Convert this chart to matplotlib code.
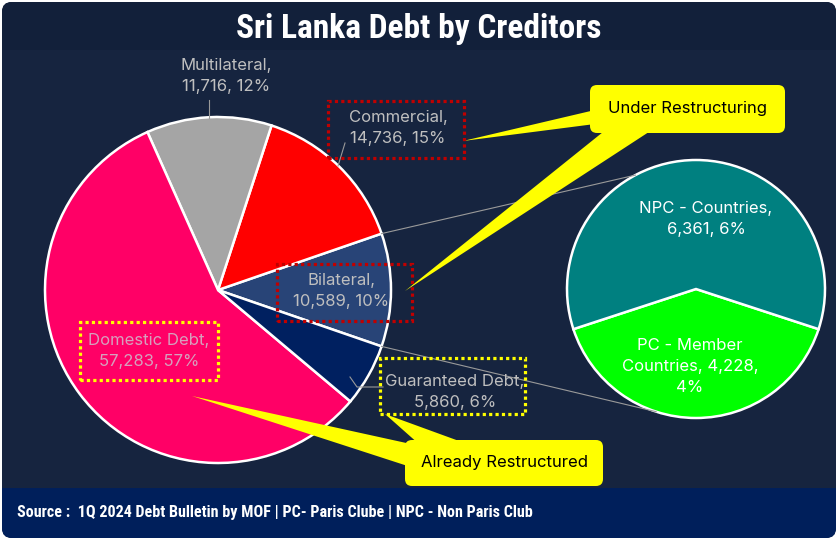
import matplotlib.pyplot as plt
from matplotlib.patches import FancyBboxPatch, Rectangle, Polygon
import numpy as np

W, H = 838, 540

# main pie (Excel pie-of-pie order: the "other" slice first, centred at 3 o'clock)
main_names = ["Bilateral", "Commercial", "Multilateral", "Domestic Debt", "Guaranteed Debt"]
main_values = [10589, 14736, 11716, 57283, 5860]
main_pcts = [10, 15, 12, 57, 6]
main_colors = ["#284477", "#ff0000", "#a5a5a5", "#ff0066", "#002060"]

# secondary pie = split of Bilateral
sub_names = ["PC - Member\nCountries", "NPC - Countries"]
sub_values = [4228, 6361]
sub_pcts = [4, 6]
sub_colors = ["#00ff00", "#008080"]

title = "Sri Lanka Debt by Creditors"
source = "Source :  1Q 2024 Debt Bulletin by MOF | PC- Paris Clube | NPC - Non Paris Club"

COND = ["Liberation Sans Narrow", "Roboto Condensed", "DejaVu Sans"]
LBL = ["Inter", "DejaVu Sans"]


def Y(y):
    return H - y


fig = plt.figure(figsize=(W / 100, H / 100), dpi=100, facecolor="white")
ax = fig.add_axes([0, 0, 1, 1])

# background panels
ax.add_patch(FancyBboxPatch((2, 2), W - 4, H - 4, boxstyle="round,pad=0,rounding_size=10",
                            fc="#16243f", ec="none", zorder=0))
ax.add_patch(FancyBboxPatch((2, Y(60)), W - 4, 58, boxstyle="round,pad=0,rounding_size=10",
                            fc="#12203a", ec="none", zorder=0.1))
ax.add_patch(Rectangle((2, Y(100)), W - 4, 50, fc="#16243f", ec="none", zorder=0.2))
ax.add_patch(FancyBboxPatch((2, 2), W - 4, 50, boxstyle="round,pad=0,rounding_size=10",
                            fc="#001f5b", ec="none", zorder=0.3))
ax.add_patch(Rectangle((2, 40), W - 4, 12, fc="#001f5b", ec="none", zorder=0.3))

# main pie
mc = (218, Y(290))
mr = 173
half = 180 * main_values[0] / sum(main_values)
ax.pie(main_values, colors=main_colors, startangle=-half, counterclock=True,
       center=mc, radius=mr, wedgeprops=dict(edgecolor="white", linewidth=1.8))

# secondary pie
sc = (696, Y(289))
sr = 129
gfrac = sub_values[0] / sum(sub_values)
ax.pie(sub_values, colors=sub_colors, startangle=270 - 180 * gfrac, counterclock=True,
       center=sc, radius=sr, wedgeprops=dict(edgecolor="white", linewidth=1.8))

# connector lines
for a_main, a_sub in [(half, 118), (-half, 252)]:
    p1 = (mc[0] + mr * np.cos(np.radians(a_main)), mc[1] + mr * np.sin(np.radians(a_main)))
    p2 = (sc[0] + sr * np.cos(np.radians(a_sub)), sc[1] + sr * np.sin(np.radians(a_sub)))
    ax.plot([p1[0], p2[0]], [p1[1], p2[1]], color="#9a9a9a", lw=0.8, zorder=1)

# leader lines
ax.plot([209, 209], [Y(100), Y(118)], color="#9a9a9a", lw=0.8, zorder=3)
ax.plot([345, 338], [Y(143), Y(166)], color="#9a9a9a", lw=0.8, zorder=3)
ax.plot([350, 357, 383], [Y(377), Y(387), Y(387)], color="#9a9a9a", lw=0.8, zorder=3)

# callout wedges
ylw = "#ffff00"
for pts in [
    [(463, 141), (595, 110), (595, 124)],
    [(405, 291), (608, 128), (655, 128)],
    [(192, 396), (420, 446), (420, 470)],
    [(385, 414), (420, 445), (470, 445)],
]:
    ax.add_patch(Polygon([(x, Y(y)) for x, y in pts], closed=True, fc=ylw, ec="none", zorder=4))

# callout boxes
for (x0, y0, x1, y1), txt in [((590, 85, 785, 133), "Under Restructuring"),
                              ((405, 440, 603, 486), "Already Restructured")]:
    ax.add_patch(FancyBboxPatch((x0, Y(y1)), x1 - x0, y1 - y0,
                                boxstyle="round,pad=0,rounding_size=7",
                                fc=ylw, ec="none", zorder=5))
    ax.text((x0 + x1) / 2, Y((y0 + y1) / 2), txt, ha="center", va="center",
            fontsize=12, family=LBL, color="black", zorder=6)

# dotted label boxes
for (x0, y0, x1, y1), col in [((328, 101, 464, 158), "#c00000"),
                              ((277, 264, 412, 321), "#c00000"),
                              ((80, 322, 218, 380), ylw),
                              ((380, 358, 525, 414), ylw)]:
    ax.add_patch(Rectangle((x0, Y(y1)), x1 - x0, y1 - y0, fill=False, ec=col, lw=2.3,
                           linestyle=(0, (1, 1)), zorder=4))

# data labels, main pie
main_pos = [(341, 291), (398, 128), (226, 76), (149, 351), (455, 392)]
for name, v, p, (x, y) in zip(main_names, main_values, main_pcts, main_pos):
    col = "#d6a0bd" if name == "Domestic Debt" else "#bfbfbf"
    ax.text(x, Y(y), f"{name},\n{v:,}, {p}%", ha="center", va="center", fontsize=12,
            family=LBL, color=col, linespacing=1.5, zorder=6)

# data labels, secondary pie
sub_pos = [(690, 367), (706, 219)]
for name, v, p, (x, y) in zip(sub_names, sub_values, sub_pcts, sub_pos):
    if "\n" in name:
        txt = f"{name}, {v:,},\n{p}%"
    else:
        txt = f"{name},\n{v:,}, {p}%"
    ax.text(x, Y(y), txt, ha="center", va="center", fontsize=12,
            family=LBL, color="white", linespacing=1.5, zorder=6)

# title and footer
ax.text(W / 2, Y(29), title, ha="center", va="center", fontsize=24, fontweight="bold",
        family=COND, color="white", zorder=6)
ax.text(17, Y(512), source, ha="left", va="center", fontsize=11.6, fontweight="bold",
        family=COND, color="white", zorder=6)

ax.set_xlim(0, W)
ax.set_ylim(0, H)
ax.set_aspect("equal")
ax.axis("off")

fig.savefig("out.png", dpi=100, facecolor="white")
